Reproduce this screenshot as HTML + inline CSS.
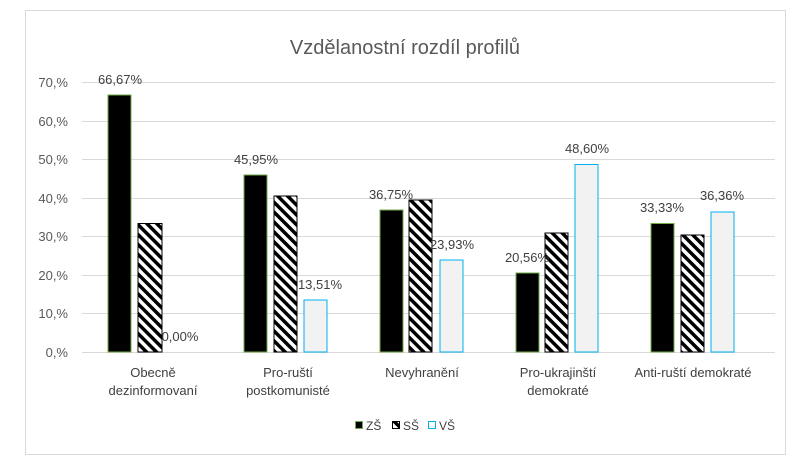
<!DOCTYPE html><html><head><meta charset="utf-8"><style>body{margin:0;background:#fff}</style></head><body>
<svg width="800" height="469" xmlns="http://www.w3.org/2000/svg" font-family="Liberation Sans, sans-serif">
<defs><pattern id="h" width="7" height="7" patternUnits="userSpaceOnUse" patternTransform="rotate(-45)"><rect width="7" height="7" fill="#fff"/><rect width="3.5" height="7" fill="#000"/></pattern></defs>
<rect x="25.5" y="10.5" width="760" height="444" fill="#fff" stroke="#d9d9d9"/>
<text x="405" y="54" font-size="20" fill="#595959" text-anchor="middle">Vzdělanostní rozdíl profilů</text>
<g stroke="#d9d9d9" stroke-width="1">
<line x1="82" x2="775" y1="82.5" y2="82.5"/><line x1="82" x2="775" y1="121.5" y2="121.5"/><line x1="82" x2="775" y1="159.5" y2="159.5"/><line x1="82" x2="775" y1="198.5" y2="198.5"/><line x1="82" x2="775" y1="236.5" y2="236.5"/><line x1="82" x2="775" y1="275.5" y2="275.5"/><line x1="82" x2="775" y1="313.5" y2="313.5"/><line x1="82" x2="775" y1="352.5" y2="352.5"/></g>
<g font-size="13" fill="#595959" text-anchor="end">
<text x="68" y="87">70,%</text><text x="68" y="126">60,%</text><text x="68" y="164">50,%</text><text x="68" y="203">40,%</text><text x="68" y="241">30,%</text><text x="68" y="280">20,%</text><text x="68" y="318">10,%</text><text x="68" y="357">0,%</text></g>
<g stroke-width="1">
<rect x="108" y="95" width="23" height="257" fill="#000" stroke="#70ad47"/>
<rect x="138" y="223.5" width="24" height="128.5" fill="url(#h)" stroke="#000"/>
<rect x="244" y="175" width="23" height="177" fill="#000" stroke="#70ad47"/>
<rect x="274" y="196" width="23" height="156" fill="url(#h)" stroke="#000"/>
<rect x="304" y="300" width="23" height="52" fill="#f2f2f2" stroke="#00b0f0"/>
<rect x="380" y="210" width="23" height="142" fill="#000" stroke="#70ad47"/>
<rect x="409" y="200" width="23" height="152" fill="url(#h)" stroke="#000"/>
<rect x="440" y="260" width="23" height="92" fill="#f2f2f2" stroke="#00b0f0"/>
<rect x="516" y="273" width="23" height="79" fill="#000" stroke="#70ad47"/>
<rect x="545" y="233" width="23" height="119" fill="url(#h)" stroke="#000"/>
<rect x="575" y="164.5" width="23" height="187.5" fill="#f2f2f2" stroke="#00b0f0"/>
<rect x="651" y="223.5" width="23" height="128.5" fill="#000" stroke="#70ad47"/>
<rect x="681" y="235" width="23" height="117" fill="url(#h)" stroke="#000"/>
<rect x="711" y="212" width="23" height="140" fill="#f2f2f2" stroke="#00b0f0"/>
</g>
<g font-size="13" fill="#404040" text-anchor="middle">
<text x="120" y="84">66,67%</text><text x="180" y="341">0,00%</text>
<text x="256" y="164">45,95%</text><text x="320" y="289">13,51%</text>
<text x="391" y="199">36,75%</text><text x="452" y="249">23,93%</text>
<text x="527" y="262">20,56%</text><text x="587" y="153">48,60%</text>
<text x="662" y="212">33,33%</text><text x="722" y="200">36,36%</text>
</g>
<g font-size="13" fill="#404040" text-anchor="middle">
<text x="153" y="377">Obecně</text><text x="153" y="395">dezinformovaní</text>
<text x="288" y="377">Pro-ruští</text><text x="288" y="395">postkomunisté</text>
<text x="422" y="377">Nevyhranění</text>
<text x="558" y="377">Pro-ukrajinští</text><text x="558" y="395">demokraté</text>
<text x="693" y="377">Anti-ruští demokraté</text>
</g>
<rect x="355.5" y="421.5" width="7" height="7" fill="#000" stroke="#70ad47"/>
<text x="366" y="430" font-size="12" fill="#404040">ZŠ</text>
<rect x="392.5" y="421.5" width="7" height="7" fill="url(#h)" stroke="#000"/>
<text x="403" y="430" font-size="12" fill="#404040">SŠ</text>
<rect x="428.5" y="421.5" width="7" height="7" fill="#fff" stroke="#00b0f0"/>
<text x="439" y="430" font-size="12" fill="#404040">VŠ</text>
</svg></body></html>
